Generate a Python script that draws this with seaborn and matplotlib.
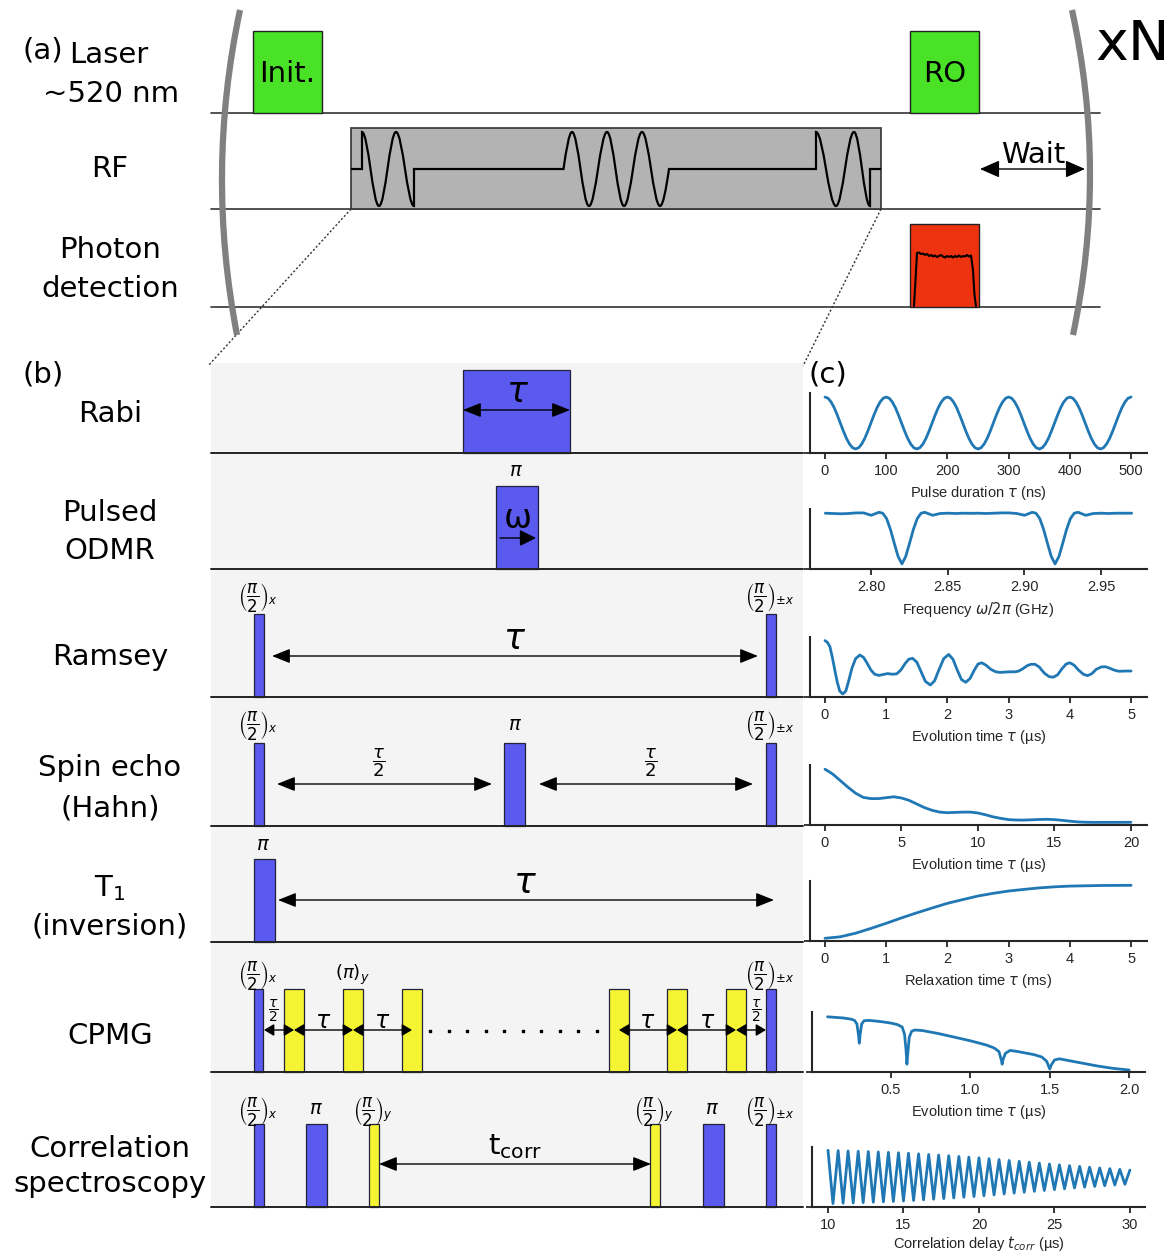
import numpy as np
import pandas as pd
import matplotlib
matplotlib.use("Agg")
import matplotlib.pyplot as plt
import seaborn as sns
from matplotlib.patches import Rectangle, PathPatch
from matplotlib.path import Path

# ======================= DATA =======================
# (a) laser / RF / photon detection scheme
a_row_lines = [["Laser", "~520 nm"], ["RF"], ["Photon", "detection"]]
laser_labels = ["Init.", "RO"]
wait_label = "Wait"
repeat_label = "xN"
panel_labels = ["(a)", "(b)", "(c)"]

# (b) pulse sequences
b_row_lines = [["Rabi"], ["Pulsed", "ODMR"], ["Ramsey"], ["Spin echo", "(Hahn)"],
               ["T$_1$", "(inversion)"], ["CPMG"], ["Correlation", "spectroscopy"]]
half_x = r"$\left(\dfrac{\pi}{2}\right)_x$"
half_y = r"$\left(\dfrac{\pi}{2}\right)_y$"
half_pmx = r"$\left(\dfrac{\pi}{2}\right)_{\pm x}$"
pi_y = r"$\left(\pi\right)_y$"
pi_lbl = r"$\pi$"
tau_lbl = r"$\tau$"
tau2_lbl = r"$\dfrac{\tau}{2}$"
tcorr_lbl = r"$\mathrm{t}_{\mathrm{corr}}$"

# (c) measured-signal sketches (normalised signal)
rabi_t = [0, 5, 10, 15, 20, 25, 30, 35, 40, 45, 50, 55, 60, 65, 70, 75, 80, 85, 90, 95,
          100, 105, 110, 115, 120, 125, 130, 135, 140, 145, 150, 155, 160, 165, 170, 175, 180, 185, 190, 195,
          200, 205, 210, 215, 220, 225, 230, 235, 240, 245, 250, 255, 260, 265, 270, 275, 280, 285, 290, 295,
          300, 305, 310, 315, 320, 325, 330, 335, 340, 345, 350, 355, 360, 365, 370, 375, 380, 385, 390, 395,
          400, 405, 410, 415, 420, 425, 430, 435, 440, 445, 450, 455, 460, 465, 470, 475, 480, 485, 490, 495,
          500]
rabi_s = [0.933, 0.912, 0.850, 0.755, 0.634, 0.500, 0.366, 0.245, 0.150, 0.088,
          0.067, 0.088, 0.150, 0.245, 0.366, 0.500, 0.634, 0.755, 0.850, 0.912,
          0.933, 0.912, 0.850, 0.755, 0.634, 0.500, 0.366, 0.245, 0.150, 0.088,
          0.067, 0.088, 0.150, 0.245, 0.366, 0.500, 0.634, 0.755, 0.850, 0.912,
          0.933, 0.912, 0.850, 0.755, 0.634, 0.500, 0.366, 0.245, 0.150, 0.088,
          0.067, 0.088, 0.150, 0.245, 0.366, 0.500, 0.634, 0.755, 0.850, 0.912,
          0.933, 0.912, 0.850, 0.755, 0.634, 0.500, 0.366, 0.245, 0.150, 0.088,
          0.067, 0.088, 0.150, 0.245, 0.366, 0.500, 0.634, 0.755, 0.850, 0.912,
          0.933, 0.912, 0.850, 0.755, 0.634, 0.500, 0.366, 0.245, 0.150, 0.088,
          0.067, 0.088, 0.150, 0.245, 0.366, 0.500, 0.634, 0.755, 0.850, 0.912,
          0.933]

odmr_f = [2.770, 2.775, 2.780, 2.785, 2.790, 2.795, 2.800, 2.805, 2.8075, 2.810, 2.8125, 2.815,
          2.8175, 2.820, 2.8225, 2.825, 2.8275, 2.830, 2.8325, 2.835, 2.840, 2.845, 2.850, 2.855,
          2.860, 2.865, 2.870, 2.875, 2.880, 2.885, 2.890, 2.895, 2.900, 2.905, 2.9075, 2.910,
          2.9125, 2.915, 2.9175, 2.920, 2.9225, 2.925, 2.9275, 2.930, 2.9325, 2.935, 2.940, 2.945,
          2.950, 2.955, 2.960, 2.965, 2.970]
odmr_s = [0.930, 0.925, 0.920, 0.925, 0.935, 0.935, 0.895, 0.945, 0.930, 0.840, 0.660, 0.430,
          0.210, 0.085, 0.210, 0.430, 0.660, 0.840, 0.930, 0.945, 0.895, 0.925, 0.930, 0.925,
          0.930, 0.928, 0.930, 0.925, 0.930, 0.935, 0.935, 0.925, 0.895, 0.945, 0.930, 0.840,
          0.660, 0.430, 0.210, 0.085, 0.210, 0.430, 0.660, 0.840, 0.930, 0.945, 0.895, 0.925,
          0.930, 0.925, 0.930, 0.930, 0.930]

ramsey_t = [0.00, 0.04, 0.08, 0.12, 0.16, 0.20, 0.24, 0.29, 0.34, 0.39, 0.44, 0.50, 0.57, 0.63,
            0.69, 0.75, 0.81, 0.88, 0.95, 1.02, 1.10, 1.17, 1.24, 1.31, 1.37, 1.43, 1.50, 1.57,
            1.64, 1.72, 1.79, 1.86, 1.94, 2.02, 2.09, 2.16, 2.23, 2.30, 2.37, 2.44, 2.50, 2.56,
            2.63, 2.71, 2.79, 2.86, 2.94, 3.02, 3.10, 3.16, 3.23, 3.30, 3.36, 3.43, 3.50, 3.58,
            3.66, 3.73, 3.80, 3.87, 3.94, 4.00, 4.07, 4.14, 4.22, 4.29, 4.36, 4.43, 4.51, 4.58,
            4.65, 4.72, 4.79, 4.85, 4.92, 5.00]
ramsey_s = [0.94, 0.91, 0.84, 0.66, 0.45, 0.25, 0.10, 0.05, 0.10, 0.28, 0.48, 0.64, 0.70, 0.66,
            0.56, 0.45, 0.38, 0.36, 0.375, 0.39, 0.38, 0.385, 0.45, 0.56, 0.63, 0.645, 0.58, 0.42,
            0.26, 0.20, 0.27, 0.45, 0.64, 0.71, 0.63, 0.45, 0.29, 0.245, 0.31, 0.45, 0.55, 0.57,
            0.53, 0.46, 0.42, 0.41, 0.415, 0.42, 0.42, 0.43, 0.47, 0.52, 0.545, 0.545, 0.50, 0.40,
            0.34, 0.33, 0.37, 0.47, 0.55, 0.57, 0.53, 0.45, 0.38, 0.355, 0.39, 0.46, 0.50, 0.505,
            0.48, 0.45, 0.43, 0.43, 0.433, 0.433]

echo_t = [0, 0.5, 1, 1.5, 2, 2.5, 3, 3.5, 4, 4.5, 5, 5.5, 6, 6.5, 7, 7.5, 8, 8.5, 9, 9.5, 10,
          10.5, 11, 11.5, 12, 12.5, 13, 13.5, 14, 14.5, 15, 15.5, 16, 16.5, 17, 17.5, 18, 19, 20]
echo_s = [0.93, 0.85, 0.74, 0.63, 0.53, 0.46, 0.44, 0.44, 0.455, 0.47, 0.45, 0.41, 0.35, 0.29,
          0.245, 0.215, 0.205, 0.21, 0.215, 0.215, 0.20, 0.17, 0.135, 0.11, 0.09, 0.083, 0.082,
          0.087, 0.092, 0.095, 0.09, 0.078, 0.064, 0.052, 0.046, 0.044, 0.044, 0.044, 0.045]

t1_t = [0, 0.25, 0.5, 0.75, 1, 1.25, 1.5, 1.75, 2, 2.25, 2.5, 2.75, 3, 3.25, 3.5, 3.75, 4, 4.5, 5]
t1_s = [0.045, 0.07, 0.13, 0.21, 0.295, 0.385, 0.47, 0.55, 0.628, 0.69, 0.75, 0.795, 0.833,
        0.86, 0.885, 0.903, 0.915, 0.925, 0.928]

cpmg_t = [0.10, 0.15, 0.20, 0.25, 0.27, 0.285, 0.295, 0.30, 0.305, 0.315, 0.33, 0.36, 0.40, 0.45,
          0.50, 0.54, 0.57, 0.585, 0.595, 0.60, 0.605, 0.615, 0.63, 0.65, 0.70, 0.80, 0.90, 1.00,
          1.10, 1.15, 1.18, 1.195, 1.20, 1.205, 1.22, 1.25, 1.30, 1.40, 1.45, 1.48, 1.50, 1.51,
          1.53, 1.56, 1.60, 1.70, 1.80, 1.90, 2.00]
cpmg_s = [0.92, 0.91, 0.90, 0.88, 0.86, 0.80, 0.62, 0.48, 0.62, 0.80, 0.855, 0.86, 0.85, 0.835,
          0.815, 0.79, 0.75, 0.63, 0.35, 0.13, 0.30, 0.58, 0.68, 0.70, 0.69, 0.64, 0.58, 0.52,
          0.45, 0.40, 0.34, 0.20, 0.13, 0.20, 0.31, 0.36, 0.34, 0.29, 0.25, 0.18, 0.05, 0.12,
          0.20, 0.22, 0.20, 0.15, 0.10, 0.06, 0.033]

corr_t = [10.00, 10.33, 10.67, 11.00, 11.33, 11.67, 12.00, 12.33, 12.67, 13.00, 13.33, 13.67,
          14.00, 14.33, 14.67, 15.00, 15.33, 15.67, 16.00, 16.33, 16.67, 17.00, 17.33, 17.67,
          18.00, 18.33, 18.67, 19.00, 19.33, 19.67, 20.00, 20.33, 20.67, 21.00, 21.33, 21.67,
          22.00, 22.33, 22.67, 23.00, 23.33, 23.67, 24.00, 24.33, 24.67, 25.00, 25.33, 25.67,
          26.00, 26.33, 26.67, 27.00, 27.33, 27.67, 28.00, 28.33, 28.67, 29.00, 29.33, 29.67, 30.00]
corr_s = [0.945, 0.057, 0.940, 0.063, 0.934, 0.068, 0.929, 0.073, 0.924, 0.079, 0.918, 0.086,
          0.911, 0.092, 0.904, 0.100, 0.896, 0.109, 0.886, 0.119, 0.875, 0.130, 0.866, 0.140,
          0.855, 0.151, 0.843, 0.163, 0.831, 0.174, 0.820, 0.187, 0.805, 0.202, 0.791, 0.217,
          0.776, 0.231, 0.761, 0.246, 0.747, 0.261, 0.732, 0.275, 0.717, 0.290, 0.703, 0.303,
          0.690, 0.317, 0.677, 0.330, 0.663, 0.343, 0.651, 0.355, 0.639, 0.367, 0.627, 0.379, 0.615]

c_xlabels = [r"Pulse duration $\tau$ (ns)", r"Frequency $\omega/2\pi$ (GHz)",
             r"Evolution time $\tau$ (µs)", r"Evolution time $\tau$ (µs)",
             r"Relaxation time $\tau$ (ms)", r"Evolution time $\tau$ (µs)",
             r"Correlation delay $t_{corr}$ (µs)"]
c_xticks = [[0, 100, 200, 300, 400, 500], [2.80, 2.85, 2.90, 2.95], [0, 1, 2, 3, 4, 5],
            [0, 5, 10, 15, 20], [0, 1, 2, 3, 4, 5], [0.5, 1.0, 1.5, 2.0], [10, 15, 20, 25, 30]]
c_xticklabels = [["0", "100", "200", "300", "400", "500"], ["2.80", "2.85", "2.90", "2.95"],
                 ["0", "1", "2", "3", "4", "5"], ["0", "5", "10", "15", "20"],
                 ["0", "1", "2", "3", "4", "5"], ["0.5", "1.0", "1.5", "2.0"],
                 ["10", "15", "20", "25", "30"]]

# ======================= STYLE / LAYOUT =======================
W, H = 1176, 1254
INK = "#262626"
sns.set_theme(style="ticks", rc={
    "axes.linewidth": 1.5, "axes.edgecolor": INK,
    "xtick.major.width": 1.3, "ytick.major.width": 1.3,
    "xtick.major.size": 4.5, "ytick.major.size": 4.5,
    "xtick.color": INK, "ytick.color": INK, "axes.labelcolor": INK,
})
plt.rcParams["font.family"] = ["DejaVu Sans"]
plt.rcParams["mathtext.fontset"] = "dejavusans"

GREEN, RED, GREY_BOX = "#4ae226", "#ee3311", "#b3b3b3"
BLUE, YELLOW = "#5a5aef", "#f4f432"
LINE = "#1f77b4"
FS = 21

fig = plt.figure(figsize=(W / 100, H / 100), dpi=100)
ax0 = fig.add_axes([0, 0, 1, 1])
ax0.set_xlim(0, W)
ax0.set_ylim(H, 0)
ax0.axis("off")


def txt(x, y, s, fs=FS, va="baseline", **kw):
    ax0.text(x, y, s, fontsize=fs, ha="center", va=va, color="black", **kw)


def darrow(x1, x2, y, ms=22, hw=0.2, style="<|-|>", lw=1.0, z=6):
    ax0.annotate("", xy=(x2, y), xytext=(x1, y),
                 arrowprops=dict(arrowstyle=f"{style},head_length=0.5,head_width={hw}",
                                 color="black", lw=lw, mutation_scale=ms,
                                 shrinkA=0, shrinkB=0), zorder=z)


# ---------------- panel (a) ----------------
a_lines_y = [113, 209, 307]
for y in a_lines_y:
    ax0.plot([211, 1100], [y, y], color="#333333", lw=1.2, zorder=2)

txt(43, 58, panel_labels[0])
a_text_pos = [[(109, 63), (111, 102)], [(110, 177)], [(110, 258), (110, 297)]]
for lines, poss in zip(a_row_lines, a_text_pos):
    for s, (x, y) in zip(lines, poss):
        txt(x, y, s)

# laser boxes
for lab, x0 in zip(laser_labels, [253, 910]):
    ax0.add_patch(Rectangle((x0, 31), 69, 82, fc=GREEN, ec="#222222", lw=1.0, zorder=3))
    txt(x0 + 34.5, 82, lab)

# RF block with waveform
ax0.add_patch(Rectangle((351, 128), 530, 81, fc=GREY_BOX, ec="#333333", lw=1.2, zorder=3))
base, top, bot = 169, 132, 206


def bez(p0, p1, s0, s1, c):
    dx = p1[0] - p0[0]
    return [(p0[0] + c * dx, p0[1] + c * dx * s0), (p1[0] - c * dx, p1[1] - c * dx * s1), p1]


verts = [(351, base)]
codes = [Path.MOVETO]


def L(p):
    verts.append(p); codes.append(Path.LINETO)


def C(p1, s0, s1, c):
    verts.extend(bez(verts[-1], p1, s0, s1, c)); codes.extend([Path.CURVE4] * 3)


amp = (bot - top) / 2
L((362, base)); L((362, top))
for x, y in [(379, bot), (396, top), (414, bot)]:
    C((x, y), 0, 0, 0.364)
L((414, base)); L((563.5, base))
slope_q = -amp * np.pi / (2 * 8.5)
C((572, top), slope_q, 0, 1 / 3)
for x, y in [(589, bot), (607, top), (624, bot), (642, top), (660, bot)]:
    C((x, y), 0, 0, 0.364)
C((669, base), 0, slope_q, 1 / 3)
L((816, base)); L((816, top))
for x, y in [(836, bot), (854, top), (870, bot)]:
    C((x, y), 0, 0, 0.364)
L((870, base)); L((881, base))
ax0.add_patch(PathPatch(Path(verts, codes), fc="none", ec="black", lw=1.6, zorder=4))

# photon detection box with trace
ax0.add_patch(Rectangle((910, 224), 69, 83, fc=RED, ec="#222222", lw=1.0, zorder=3))
trace_x = [914, 915.5, 917, 919, 921, 923, 925, 927, 929, 931, 933, 935, 937, 939, 941, 943,
           945, 947, 949, 951, 953, 955, 957, 959, 961, 963, 965, 967, 969, 971, 973, 974.5, 976]
trace_y = [306, 280, 253, 252.5, 254, 253.5, 255, 254, 256, 255, 256.5, 255.5, 257, 256, 255,
           256.5, 257.5, 256, 257, 256, 257.5, 256, 257, 255.5, 257, 256, 256.5, 255, 256.5,
           255.5, 270, 295, 306]
ax0.plot(trace_x, trace_y, color="black", lw=1.5, zorder=4)

# repeat brackets
for pts in ([(240, 10), (205.5, 172), (237, 335)], [(1072, 10), (1107.5, 172), (1073, 335)]):
    ax0.add_patch(PathPatch(Path(pts, [Path.MOVETO, Path.CURVE3, Path.CURVE3]),
                            fc="none", ec="#808080", lw=4.5, capstyle="butt", zorder=5))
txt(1133, 60, repeat_label, fs=40)
darrow(980, 1085, 169, ms=24, hw=0.22)
txt(1033, 163, wait_label)

# zoom lines
ax0.plot([351, 208], [209, 366], color="#333333", lw=1.0, ls=(0, (1.5, 1.5)), zorder=2)
ax0.plot([881, 803], [209, 366], color="#333333", lw=1.0, ls=(0, (1.5, 1.5)), zorder=2)

# ---------------- panel (b) ----------------
ax0.add_patch(Rectangle((211, 363), 592, 844, fc="#f4f4f4", ec="none", zorder=1))
row_base = [453, 569, 697, 826, 942, 1072, 1207]
PH = 83
rows_pulses = [
    [(463, 107, BLUE)],
    [(496, 42, BLUE)],
    [(254, 10, BLUE), (766, 10, BLUE)],
    [(254, 10, BLUE), (504, 21, BLUE), (766, 10, BLUE)],
    [(254, 21, BLUE)],
    [(254, 9, BLUE), (284, 20, YELLOW), (343, 20, YELLOW), (402, 20, YELLOW),
     (609, 20, YELLOW), (667, 20, YELLOW), (726, 20, YELLOW), (766, 10, BLUE)],
    [(254, 10, BLUE), (306, 21, BLUE), (369, 10, YELLOW), (650, 10, YELLOW),
     (703, 21, BLUE), (766, 10, BLUE)],
]
for yb, pulses in zip(row_base, rows_pulses):
    for x0, w, col in pulses:
        ax0.add_patch(Rectangle((x0, yb - PH), w, PH, fc=col, ec="#22223a", lw=0.9, zorder=3))
    ax0.plot([211, 803], [yb, yb], color="#222222", lw=1.4, zorder=4)

txt(43, 382, panel_labels[1])
b_text_pos = [[421.5], [521, 559], [665], [776, 816], [896, 934], [1044], [1157, 1192]]
for lines, ys in zip(b_row_lines, b_text_pos):
    for s, y in zip(lines, ys):
        txt(110, y, s)

# pulse annotations
MS = 12
pulse_labels = [
    (pi_lbl, 516, 471, 14),
    (half_x, 258, 598, MS), (half_pmx, 770, 598, MS),
    (half_x, 258, 725, MS), (pi_lbl, 515, 724, 14), (half_pmx, 770, 725, MS),
    (pi_lbl, 263, 844, 14),
    (half_x, 258, 975, MS), (pi_y, 352, 975, 13), (half_pmx, 770, 975, MS),
    (half_x, 258, 1111, MS), (pi_lbl, 316, 1109, 14), (half_y, 373, 1111, MS),
    (half_y, 654, 1111, MS), (pi_lbl, 712, 1109, 14), (half_pmx, 770, 1111, MS),
]
for s, x, y, fs in pulse_labels:
    txt(x, y, s, fs=fs, va="center", zorder=7)

# Rabi
txt(518, 392, tau_lbl, fs=25, va="center", zorder=7)
darrow(463, 570, 410, ms=22)
# ODMR
txt(518, 518, "ω", fs=24, va="center", zorder=7)
darrow(500, 536, 538, ms=20, hw=0.25, style="-|>")
# Ramsey
txt(515, 639, tau_lbl, fs=25, va="center", zorder=7)
darrow(272, 758, 656, ms=22)
# Spin echo
txt(379, 763, tau2_lbl, fs=13, va="center", zorder=7)
txt(651, 763, tau2_lbl, fs=13, va="center", zorder=7)
darrow(277, 492, 784, ms=22)
darrow(539, 753, 784, ms=22)
# T1
txt(525, 883, tau_lbl, fs=26, va="center", zorder=7)
darrow(278, 774, 900, ms=22)
# CPMG
for x1, x2 in [(264, 294), (294, 353), (353, 412), (619, 677), (677, 736), (736, 766)]:
    darrow(x1, x2, 1030, ms=12, hw=0.3)
for x, y, s, fs in [(273, 1011, tau2_lbl, 10), (756, 1011, tau2_lbl, 10),
                    (323, 1021, tau_lbl, 17), (382, 1021, tau_lbl, 17),
                    (647, 1021, tau_lbl, 17), (707, 1021, tau_lbl, 17)]:
    txt(x, y, s, fs=fs, va="center", zorder=7)
dots_x = [430, 448.5, 467, 485.5, 504, 522.5, 541, 559.5, 578, 596.5]
ax0.scatter(dots_x, [1031] * len(dots_x), s=3, marker="s", color="black", zorder=6)
# Correlation
txt(515, 1147, tcorr_lbl, fs=21, va="center", zorder=7)
darrow(379, 651, 1164, ms=22)

# ---------------- panel (c) ----------------
txt(828, 382, panel_labels[2])
curves = [(rabi_t, rabi_s), (odmr_f, odmr_s), (ramsey_t, ramsey_s), (echo_t, echo_s),
          (t1_t, t1_s), (cpmg_t, cpmg_s), (corr_t, corr_s)]
c_bottoms = [453, 569, 697, 825, 941, 1072, 1207]
c_left = [810, 810, 810, 810, 810, 812, 812]
c_right = [1147, 1147, 1147, 1147, 1147, 1145, 1145]
c_xlim = [(-24.5, 526), (2.760, 2.980), (-0.245, 5.26), (-0.98, 21.05), (-0.245, 5.26),
          (0.002, 2.10), (8.94, 31.0)]
c_labelpad = [4, 4, 4, 4, 4, 4, 1.5]
AH = 60
for i, (xs, ys) in enumerate(curves):
    ax = fig.add_axes([c_left[i] / W, 1 - c_bottoms[i] / H, (c_right[i] - c_left[i]) / W, AH / H])
    ax.patch.set_alpha(0)
    df = pd.DataFrame({"x": xs, "y": ys})
    sns.lineplot(data=df, x="x", y="y", ax=ax, color=LINE, linewidth=2.0, sort=False)
    ax.set_xlim(*c_xlim[i])
    ax.set_ylim(0, 1)
    ax.set_yticks([0])
    ax.set_yticklabels([])
    ax.set_ylabel("")
    ax.set_xticks(c_xticks[i])
    ax.set_xticklabels(c_xticklabels[i], fontsize=10.5, fontfamily="Liberation Sans")
    ax.set_xlabel(c_xlabels[i], fontsize=10.5, fontfamily="Liberation Sans",
                  labelpad=c_labelpad[i])
    sns.despine(ax=ax)

fig.savefig("out.png", dpi=100)
